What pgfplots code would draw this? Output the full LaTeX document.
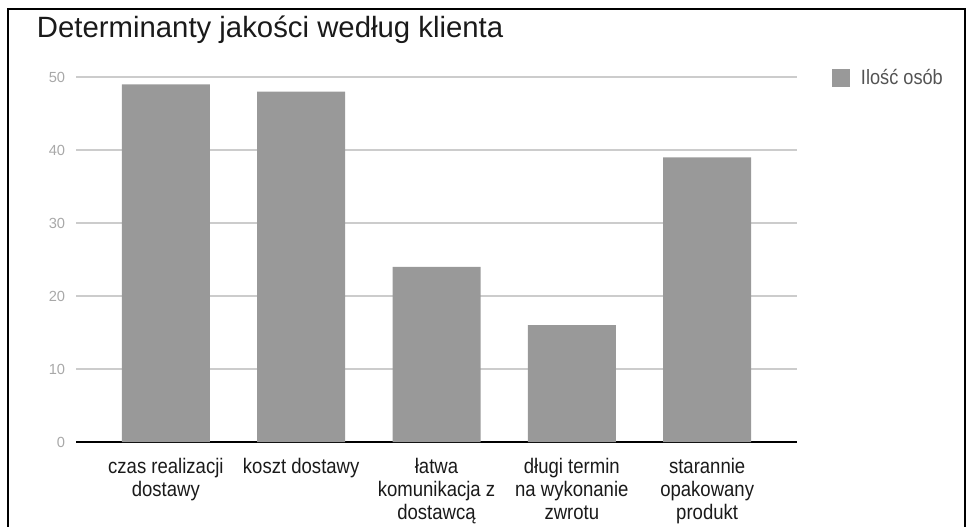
\documentclass[border=0pt]{standalone}
\usepackage{pgfplots}
\pgfplotsset{compat=1.18}
\usepackage{fontspec}
\setmainfont{Liberation Sans}[FakeStretch=0.88]
\newfontfamily\plainsans{Liberation Sans}
\definecolor{barc}{HTML}{999999}
\definecolor{gridc}{HTML}{CCCCCC}
\definecolor{tickc}{HTML}{A8A8A8}
\definecolor{txt}{HTML}{1A1A1A}
\begin{document}
\begin{tikzpicture}
\useasboundingbox (0pt,0pt) rectangle (725.25pt,394.5pt);
\draw[line width=1.5pt] (6pt,-2pt) -- (6pt,387.75pt) -- (723.75pt,387.75pt) -- (723.75pt,-2pt);
\node[anchor=base west, font=\plainsans\fontsize{22}{24}\selectfont, text=txt, inner sep=0pt] at (27.5pt,366pt) {Determinanty jakości według klienta};
\begin{axis}[
  at={(57pt,63pt)}, anchor=south west,
  scale only axis, width=540.75pt, height=273.75pt,
  xmin=-0.664, xmax=4.664, ymin=0, ymax=50,
  ybar, bar width=66pt,
  xtick={0,1,2,3,4},
  xticklabels={{czas realizacji\\dostawy},{koszt dostawy},{łatwa\\komunikacja z\\dostawcą},{długi termin\\na wykonanie\\zwrotu},{starannie\\opakowany\\produkt}},
  ytick={0,10,20,30,40,50},
  /pgf/number format/assume math mode=true,
  ymajorgrids, grid style={gridc, line width=0.8pt},
  axis x line=bottom, axis y line=left,
  x axis line style={-, black, line width=1.2pt},
  y axis line style={draw=none},
  major tick length=0pt,
  xticklabel style={anchor=north, align=center, inner sep=0pt, yshift=-12pt, text=txt, font=\fontsize{15.8}{17.3}\selectfont},
  yticklabel style={anchor=east, inner sep=0pt, xshift=-8pt, text=tickc, font=\plainsans\fontsize{11}{12}\selectfont},
  legend style={draw=none, fill=none, inner sep=0pt, at={(1.0486,0.997)}, anchor=west, font=\fontsize{15.5}{17}\selectfont, text=txt!75, column sep=6pt},
  legend image code/.code={\fill[barc] (0pt,-6.75pt) rectangle (13.5pt,6.75pt);},
]
\addplot[fill=barc, draw=none] coordinates {(0,49) (1,48) (2,24) (3,16) (4,39)};
\addlegendentry{Ilość osób}
\end{axis}
\end{tikzpicture}
\end{document}
